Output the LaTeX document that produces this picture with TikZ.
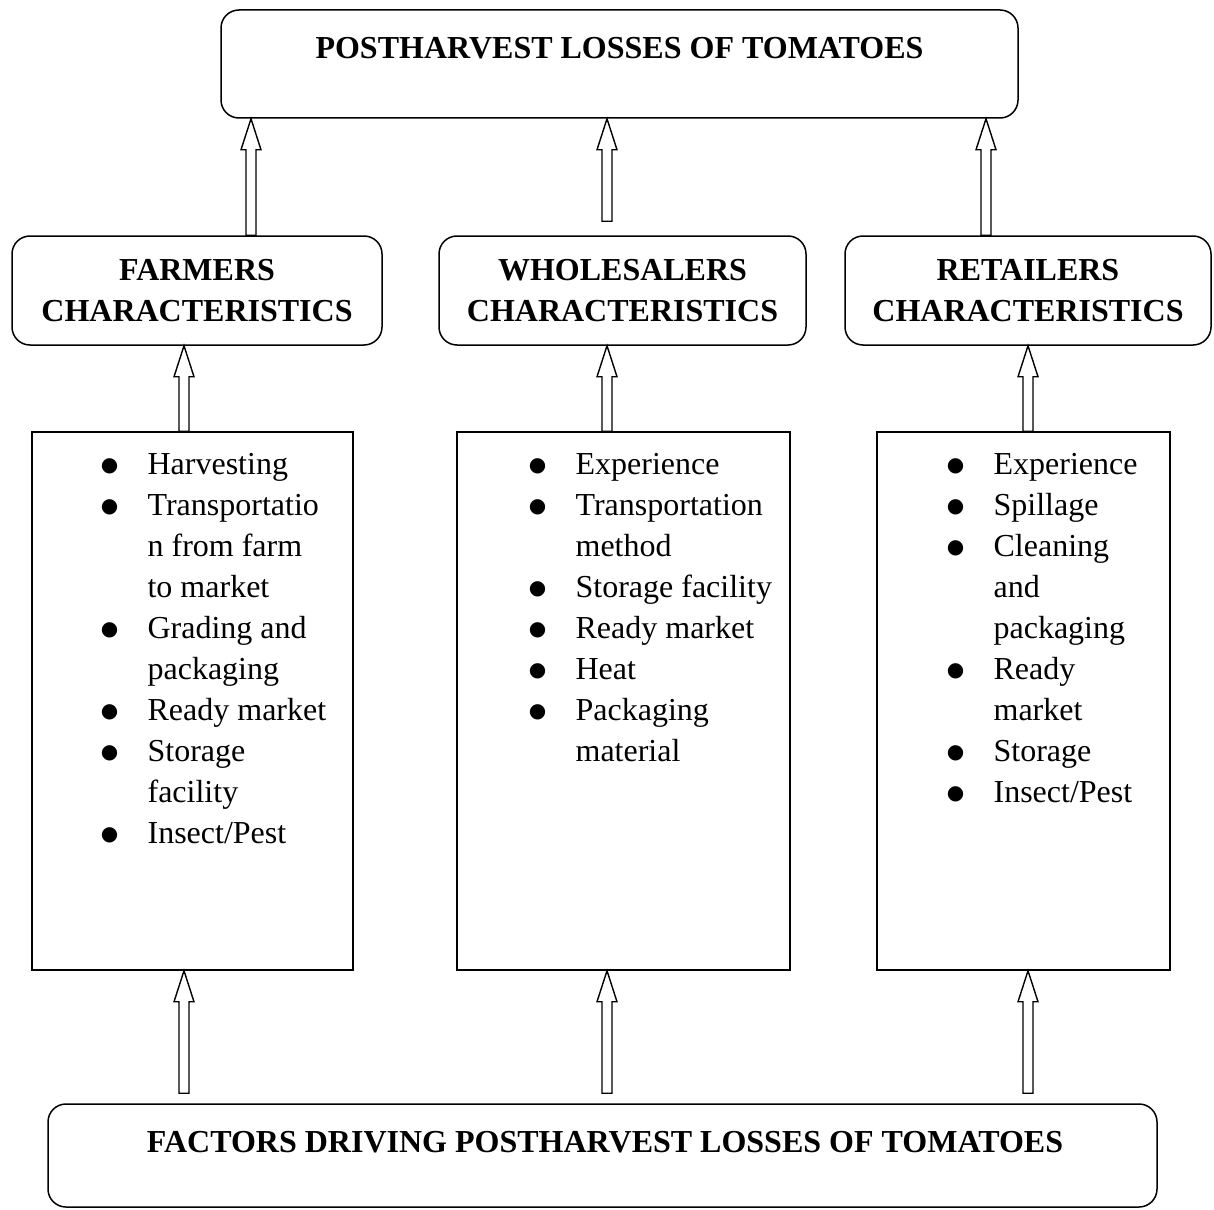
\documentclass[tikz,border=0pt]{standalone}
\usepackage{fontspec}
\setmainfont{Liberation Serif}
\newfontfamily\dejavu{DejaVu Sans}
\usetikzlibrary{calc}
\tikzset{
  rbox/.style={draw, line width=1.5pt, rounded corners=18pt, inner sep=0pt, fill=white},
  sbox/.style={draw, line width=1.5pt, inner sep=0pt},
  headtxt/.style={font=\fontsize{32}{41}\selectfont\bfseries, align=center, inner sep=0pt},
  listtxt/.style={font=\fontsize{32}{41}\selectfont, inner sep=0pt, anchor=base west},
  blockarr/.style={draw, line width=1.4pt, fill=white, line join=miter},
}
\newcommand\blockarrow[2]{%
  \draw[blockarr] let \p1=(#1), \p2=(#1 |- #2.south) in
    (\x1-5pt,\y1) -- (\x1-5pt,\y2-31pt) -- (\x1-10pt,\y2-31pt) -- (\x2,\y2)
    -- (\x1+10pt,\y2-31pt) -- (\x1+5pt,\y2-31pt) -- (\x1+5pt,\y1) -- cycle;}
\newcommand\bul{\makebox[46pt][l]{\hspace*{-0.8pt}\raisebox{3pt}{\fontsize{20}{20}\selectfont\dejavu ●}}}
\newcommand\nob{\hspace*{46pt}}
\begin{document}
\begin{tikzpicture}[x=1pt,y=-1pt]
\useasboundingbox (0,0) rectangle (1214,1209);
% top box
\node[rbox, minimum width=797pt, minimum height=108pt] (top) at (619.5,64) {};
\node[headtxt, anchor=base] (toptxt) at (619.5,58.5) {POSTHARVEST LOSSES OF TOMATOES};
% middle boxes
\node[rbox, headtxt, minimum width=370pt, minimum height=109pt] (fch) at (197,290.5) {FARMERS\\CHARACTERISTICS};
\node[rbox, headtxt, minimum width=367pt, minimum height=109pt] (wch) at (622.5,290.5) {WHOLESALERS\\CHARACTERISTICS};
\node[rbox, headtxt, minimum width=366pt, minimum height=109pt] (rch) at (1028,290.5) {RETAILERS\\CHARACTERISTICS};
% list boxes
\node[sbox, minimum width=321pt, minimum height=538pt] (flist) at (192.5,701) {};
\node[sbox, minimum width=333pt, minimum height=538pt] (wlist) at (623.5,701) {};
\node[sbox, minimum width=293pt, minimum height=538pt] (rlist) at (1023.5,701) {};
\node[listtxt] (ftxt) at (101.4,474) {\begin{tabular}[t]{@{}l@{}}
\bul Harvesting\\
\bul Transportatio\\
\nob n from farm\\
\nob to market\\
\bul Grading and\\
\nob packaging\\
\bul Ready market\\
\bul Storage\\
\nob facility\\
\bul Insect/Pest
\end{tabular}};
\node[listtxt] (wtxt) at (529.4,474) {\begin{tabular}[t]{@{}l@{}}
\bul Experience\\
\bul Transportation\\
\nob method\\
\bul Storage facility\\
\bul Ready market\\
\bul Heat\\
\bul Packaging\\
\nob material
\end{tabular}};
\node[listtxt] (rtxt) at (947.4,474) {\begin{tabular}[t]{@{}l@{}}
\bul Experience\\
\bul Spillage\\
\bul Cleaning\\
\nob and\\
\nob packaging\\
\bul Ready\\
\nob market\\
\bul Storage\\
\bul Insect/Pest
\end{tabular}};
% bottom box
\node[rbox, minimum width=1109pt, minimum height=103pt] (bot) at (602.5,1155.5) {};
\node[headtxt, anchor=base] (bottxt) at (605,1152.5) {FACTORS DRIVING POSTHARVEST LOSSES OF TOMATOES};
% arrow start coordinates
\coordinate (s1) at ([xshift=54pt]fch.north);
\coordinate (s2) at ([xshift=-15.5pt,yshift=14pt]wch.north);
\coordinate (s3) at ([xshift=-42pt]rch.north);
\coordinate (s4) at ([xshift=-8.5pt]flist.north);
\coordinate (s5) at ([xshift=-16.5pt]wlist.north);
\coordinate (s6) at ([xshift=4.5pt]rlist.north);
\coordinate (s7) at ([xshift=-418.5pt,yshift=10pt]bot.north);
\coordinate (s8) at ([xshift=4.5pt,yshift=10pt]bot.north);
\coordinate (s9) at ([xshift=425.5pt,yshift=10pt]bot.north);
\blockarrow{s1}{top}
\blockarrow{s2}{top}
\blockarrow{s3}{top}
\blockarrow{s4}{fch}
\blockarrow{s5}{wch}
\blockarrow{s6}{rch}
\blockarrow{s7}{flist}
\blockarrow{s8}{wlist}
\blockarrow{s9}{rlist}
\end{tikzpicture}
\end{document}
